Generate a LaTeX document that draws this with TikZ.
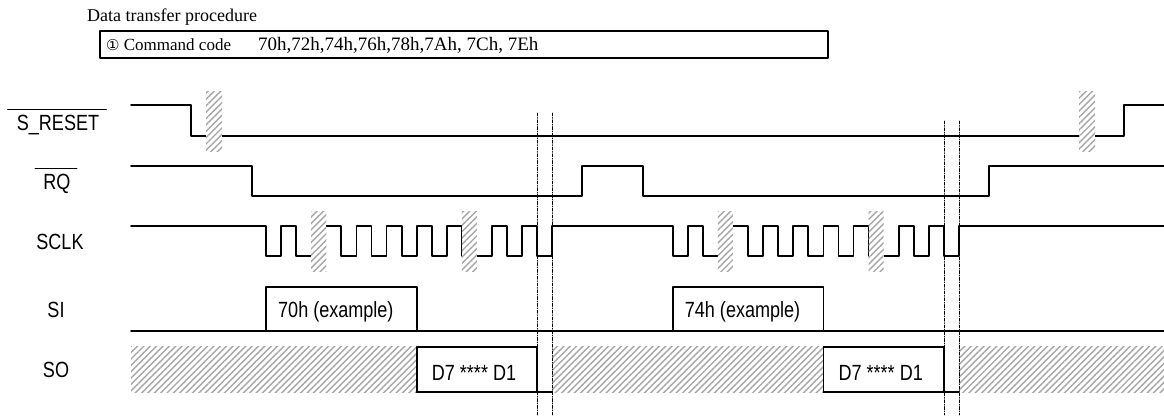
\documentclass[tikz,border=0pt]{standalone}
\usepackage{fontspec}
\setmainfont{Liberation Serif}
\newfontfamily\narrowsans[FakeStretch=0.82]{Liberation Sans}
\newfontfamily\circfont{DejaVu Sans}
\usetikzlibrary{patterns.meta}

\begin{document}
\begin{tikzpicture}[line cap=round,line join=round,x=1pt,y=-1pt,
	sig/.style={line width=1.8},
	hatch/.style={preaction={fill=white},pattern={Lines[angle=45,distance=4.5pt,line width=1.4pt]},pattern color=black!35},
	guide/.style={line width=0.8,dash pattern=on 3pt off 1.5pt on 0.8pt off 1.5pt},
	lbl/.style={font=\fontsize{22}{24}\selectfont\narrowsans,inner sep=0pt},
	head/.style={anchor=base west,inner sep=0pt,font=\fontsize{19}{22}\selectfont},
	bar/.style={line width=1.3}]
	\useasboundingbox (0,0) rectangle (1164,420);
	\def\dx{406.7};
	\def\t{15.07};
	\def\xa{266};
	
	\node[head,font=\fontsize{18}{20}\selectfont] (title) at (87,22) {Data transfer procedure};
	\draw[sig] (100,31) rectangle (828,58);
	\node[head,font=\fontsize{17}{20}\selectfont] (cmd) at (106,51) {{\circfont\fontsize{15}{18}\selectfont ①} Command code};
	\node[head] (codes) at (258,51) {70h,72h,74h,76h,78h,7Ah, 7Ch, 7Eh};
	
	\node[lbl,anchor=base] (lReset) at (58,130) {S\_RESET};
	\draw[bar] ([xshift=-9,yshift=5]lReset.north west) -- ([xshift=7,yshift=5]lReset.north east);
	\node[lbl,anchor=base] (lRq) at (57,189) {RQ};
	\draw[bar] ([xshift=-8,yshift=5]lRq.north west) -- ([xshift=6,yshift=5]lRq.north east);
	\node[lbl,anchor=base] (lSclk) at (60,249) {SCLK};
	\node[lbl,anchor=base] (lSi) at (56,317) {SI};
	\node[lbl,anchor=base] (lSo) at (56,377) {SO};
	
	\draw[sig] (131,105) -- (191,105) -- (191,136) -- (1124,136) -- (1124,105) -- (1164,105);
	\path[hatch] (206,91) rectangle (222,151);
	\path[hatch] (1079,91) rectangle (1095,151);
	
	\draw[sig] (131,166) -- (252,166) -- (252,196) -- (582,196) -- (582,166) -- (643,166) -- (643,196) -- (988.7,196) -- (988.7,166) -- (1164,166);
	
	\draw[sig] (131,226) \foreach \i in {0,1} {\foreach \a/\b in {0/1,2/3.5,5/6,7/8,9/10,11/12,13/15,16/17,18/19} {-- (\xa+\a*\t+\i*\dx,226) -- (\xa+\a*\t+\i*\dx,256) -- (\xa+\b*\t+\i*\dx,256) -- (\xa+\b*\t+\i*\dx,226)}} -- (1164,226);
	
	\draw[sig] (131,331) -- (1164,331);
	\path[hatch] (131,346.7) rectangle (\xa+10*\t,392);
	\path[hatch] (\xa+19*\t,346.7) rectangle (\xa+10*\t+\dx,392);
	\path[hatch] (\xa+19*\t+\dx,346.7) rectangle (1164,392);
	
	\foreach \i/\code in {0/70h,1/74h}
	{
		\path[hatch] (\xa+3*\t+\i*\dx,211) rectangle (\xa+4*\t+\i*\dx,271);
		\path[hatch] (\xa+13*\t+\i*\dx,211) rectangle (\xa+14*\t+\i*\dx,271);
		\draw[sig] (\xa+\i*\dx,331) -- (\xa+\i*\dx,287) -- (\xa+10*\t+\i*\dx,287) -- (\xa+10*\t+\i*\dx,331);
		\node[lbl,anchor=base west] (si\i) at (\xa+12+\i*\dx,317) {\code\ (example)};
		\draw[sig] (\xa+10*\t+\i*\dx,392) -- (\xa+10*\t+\i*\dx,346.7) -- (\xa+18*\t+\i*\dx,346.7) -- (\xa+18*\t+\i*\dx,392);
		\draw[sig] (\xa+10*\t+\i*\dx,392) -- (\xa+19*\t+\i*\dx,392);
		\node[lbl,anchor=base west] (so\i) at (\xa+10*\t+15+\i*\dx,380) {D7 **** D1};
		\draw[guide] (\xa+18*\t+\i*\dx,113+8*\i) -- (\xa+18*\t+\i*\dx,415);
		\draw[guide] (\xa+19*\t+\i*\dx,113+8*\i) -- (\xa+19*\t+\i*\dx,415);
	}
	
\end{tikzpicture}
\end{document}
